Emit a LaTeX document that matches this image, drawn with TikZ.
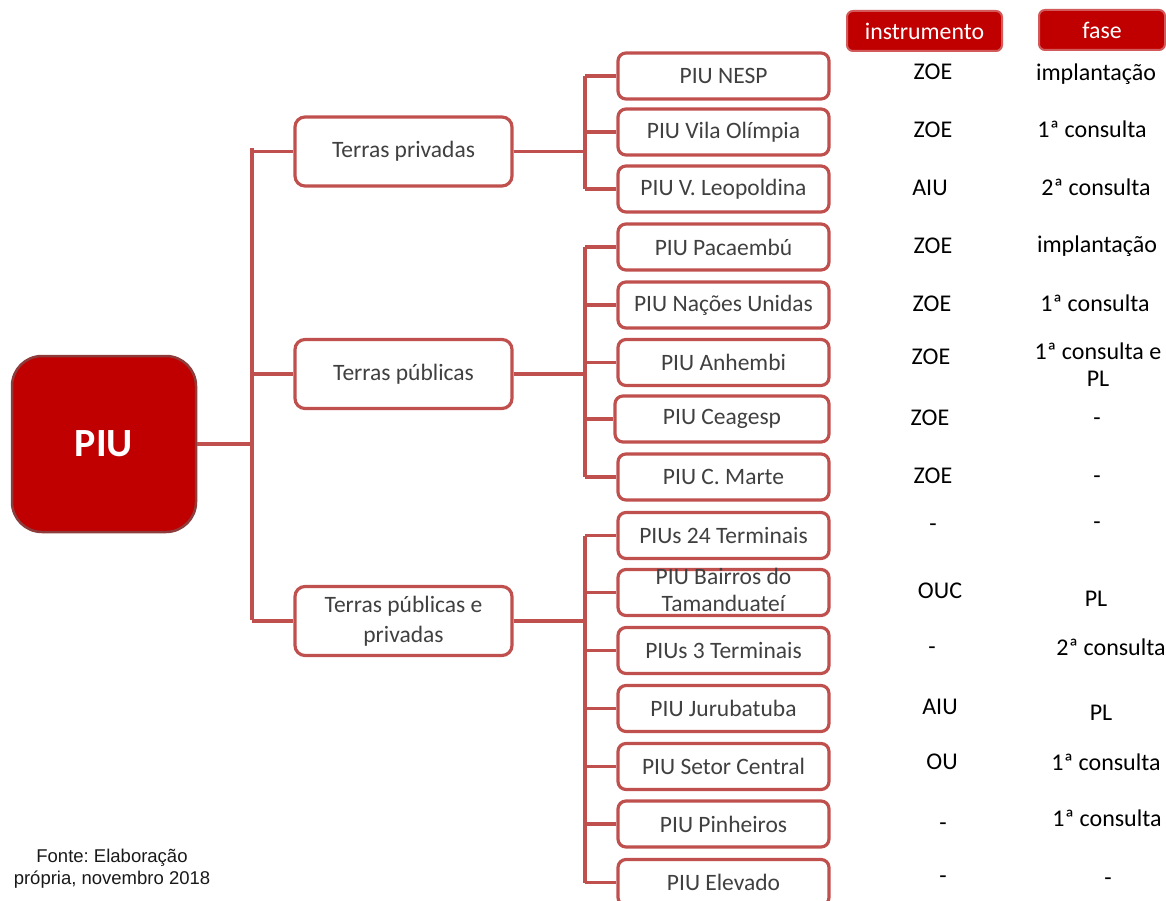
\documentclass[tikz,border=0pt]{standalone}
\usepackage{fontspec}
\setmainfont{Carlito}
\newfontfamily\arialf{Liberation Sans}
\definecolor{lnred}{HTML}{C0504D}
\definecolor{piured}{HTML}{C00000}
\definecolor{piuborder}{HTML}{8E3B3B}
\definecolor{hdrborder}{HTML}{D25A5A}
\definecolor{txt}{HTML}{404040}
\begin{document}
\begin{tikzpicture}[x=1pt,y=-1pt,
  conn/.style={lnred, line width=3.2pt},
  piubox/.style={fill=piured, draw=piuborder, line width=2.5pt, rounded corners=30pt,
    minimum width=184pt, minimum height=176pt, text=white, inner sep=0,
    font=\fontsize{40}{46}\selectfont\bfseries},
  midbox/.style={draw=lnred, line width=3.2pt, rounded corners=10pt, fill=white,
    minimum width=217pt, minimum height=69pt, text=txt, align=center, inner sep=0,
    font=\fontsize{23.5}{30}\selectfont},
  leafbox/.style={draw=lnred, line width=3.2pt, rounded corners=8pt, fill=white,
    minimum width=211pt, minimum height=46pt, text=txt, inner sep=0,
    font=\fontsize{23.5}{27}\selectfont},
  valtext/.style={font=\fontsize{24}{27}\selectfont, text=black, inner sep=0, align=center},
  val/.style={valtext, text height=16pt, text depth=5pt},
  hdr/.style={fill=piured, draw=hdrborder, line width=2pt, rounded corners=6pt,
    text=white, inner sep=0, font=\fontsize{23.8}{27}\selectfont},
  note/.style={font=\arialf\fontsize{18.5}{22}\selectfont, text=black!90, align=center, inner sep=0}
]
\useasboundingbox (0,0) rectangle (1166,901);

% root and first level
\node[piubox] (piu) at (104,444) {PIU};
\node[midbox] (m1) at (403.5,151.5) {Terras privadas};
\node[midbox] (m2) at (403.5,374) {Terras públicas};
\node[midbox] (m3) at (403.5,621) {Terras públicas e\\privadas};

% leaves
\node[leafbox] (l1) at (723.5,76) {PIU NESP};
\node[leafbox] (l2) at (723.5,132) {PIU Vila Olímpia};
\node[leafbox] (l3) at (723.5,189) {PIU V. Leopoldina};
\node[leafbox] (l4) at (723.5,247) {PIU Pacaembú};
\node[leafbox] (l5) at (723.5,305) {PIU Nações Unidas};
\node[leafbox] (l6) at (723.5,362.5) {PIU Anhembi};
\node[leafbox, minimum width=214pt] (l7) at (722,419) {PIU Ceagesp};
\node[leafbox] (l8) at (723.5,477) {PIU C. Marte};
\node[leafbox] (l9) at (723.5,535.5) {PIUs 24 Terminais};
\node[leafbox] (l10) at (723.5,592.5) {\raisebox{-13pt}{\smash{\begin{tabular}[c]{@{}c@{}}PIU Bairros do\\Tamanduateí\end{tabular}}}};
\node[leafbox] (l11) at (723.5,650.5) {PIUs 3 Terminais};
\node[leafbox] (l12) at (723.5,708.5) {PIU Jurubatuba};
\node[leafbox] (l13) at (723.5,766.5) {PIU Setor Central};
\node[leafbox] (l14) at (723.5,824) {PIU Pinheiros};
\node[leafbox] (l15) at (723.5,882.5) {PIU Elevado};

% connectors: root to first level
\coordinate (T) at (252,148);
\coordinate (Tb) at (252,620);
\draw[conn] (T) -- (Tb);
\draw[conn] (piu.east) -- (piu.east -| T);
\foreach \m in {m1,m2,m3} \draw[conn] (\m.west -| T) -- (\m.west);

% second level
\coordinate (A) at (585,0);
\draw[conn] (m1.east) -- (m1.east -| A);
\draw[conn] (m2.east) -- (m2.east -| A);
\draw[conn] (m3.east) -- (m3.east -| A);
\draw[conn] (l1.west -| A) -- (l3.west -| A);
\draw[conn] (l4.west -| A) -- (l8.west -| A);
\draw[conn] (l9.west -| A) -- (l15.west -| A);
\foreach \l in {l1,l2,l3,l4,l5,l6,l7,l8,l9,l10,l11,l12,l13,l14,l15}
  \draw[conn] (\l.west -| A) -- (\l.west);

% headers
\node[hdr, minimum width=155pt, minimum height=40pt] (hi) at (924.5,31) {instrumento};
\node[hdr, minimum width=126pt, minimum height=40pt] (hf) at (1102,30) {fase};

% instrument column
\node[val] (i1) at (933,74) {ZOE};
\node[val] (i2) at (933,132) {ZOE};
\node[val] (i3) at (930,190) {AIU};
\node[val] (i4) at (933,248) {ZOE};
\node[val] (i5) at (932,306) {ZOE};
\node[val] (i6) at (931,359) {ZOE};
\node[val] (i7) at (930,420) {ZOE};
\node[val] (i8) at (933,478) {ZOE};
\node[val] (i9) at (933,526) {-};
\node[val] (i10) at (940,593) {OUC};
\node[val] (i11) at (932,649) {-};
\node[val] (i12) at (940,709) {AIU};
\node[val] (i13) at (942,764) {OU};
\node[val] (i14) at (943,825) {-};
\node[val] (i15) at (943,878) {-};

% phase column
\node[val] (f1) at (1096,75) {implantação};
\node[val] (f2) at (1092,132) {1ª consulta};
\node[val] (f3) at (1096,190) {2ª consulta};
\node[val] (f4) at (1097,247) {implantação};
\node[val] (f5) at (1095,306) {1ª consulta};
\node[valtext] (f6) at (1098,365) {1ª consulta e\\PL};
\node[val] (f7) at (1097,420) {-};
\node[val] (f8) at (1097,478) {-};
\node[val] (f9) at (1097,524) {-};
\node[val] (f10) at (1096,601) {PL};
\node[val] (f11) at (1111,650) {2ª consulta};
\node[val] (f12) at (1101,715) {PL};
\node[val] (f13) at (1106,765) {1ª consulta};
\node[val] (f14) at (1107,821) {1ª consulta};
\node[val] (f15) at (1108,880) {-};

% source
\node[note] (src) at (112,869) {\frenchspacing Fonte: Elaboração\\própria, novembro 2018};
\end{tikzpicture}
\end{document}
